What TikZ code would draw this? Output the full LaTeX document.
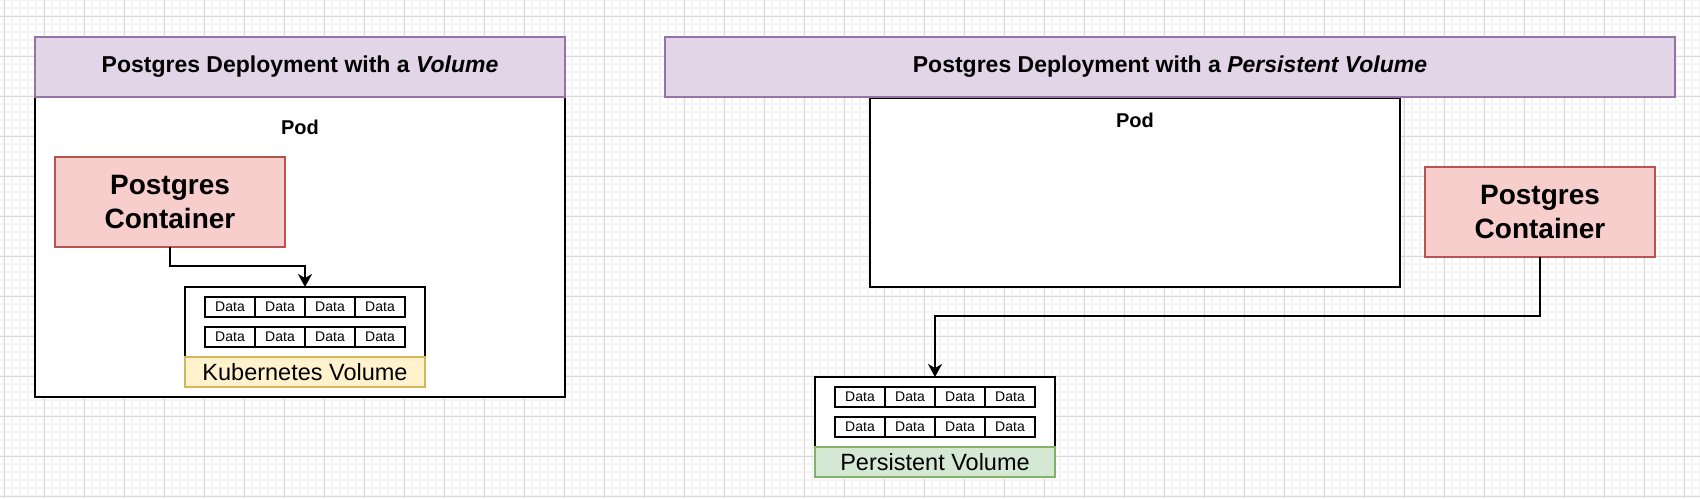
\documentclass[tikz,border=0pt]{standalone}
\usepackage{fontspec}
\setmainfont{Liberation Sans}
\usetikzlibrary{arrows.meta, positioning}
\definecolor{titlefill}{HTML}{E1D5E7}
\definecolor{titleline}{HTML}{9673A6}
\definecolor{boxfill}{HTML}{F8CECC}
\definecolor{boxline}{HTML}{B85450}
\definecolor{kubefill}{HTML}{FFF2CC}
\definecolor{kubeline}{HTML}{D6B656}
\definecolor{persfill}{HTML}{D5E8D4}
\definecolor{persline}{HTML}{82B366}

\begin{document}
\begin{tikzpicture}[x=1pt, y=-1pt, every node/.style={outer sep=0pt, inner sep=0pt},
        banner/.style={draw=titleline, fill=titlefill, line width=1.5pt, minimum height=60pt,
            anchor=north west, font=\fontsize{23}{27}\selectfont\bfseries},
        pod/.style={draw, fill=white, line width=2.5pt, minimum width=530pt, anchor=north west},
        podlabel/.style={font=\fontsize{20}{24}\selectfont\bfseries},
        container/.style={draw=boxline, fill=boxfill, line width=1.5pt, minimum width=230pt,
            minimum height=90pt, anchor=north west, align=center, font=\fontsize{28}{34}\selectfont\bfseries},
        volume/.style={draw, fill=white, line width=2pt, minimum width=240pt, minimum height=70pt, anchor=north west},
        datacell/.style={draw, line width=2pt, minimum width=50pt, minimum height=20pt,
            anchor=north west, font=\fontsize{14}{16}\selectfont},
        vollabel/.style={line width=2pt, minimum width=240pt, minimum height=30pt, font=\fontsize{23.5}{28}\selectfont},
        link/.style={line width=2.5pt, -{Stealth[length=13pt, width=14pt, inset=4pt]}}]
        \useasboundingbox (0, 0) rectangle (1700, 498);
        % Grid
        \foreach \gx in {4, 12, ..., 1700} \draw [gray!8, line width=1.5pt] (\gx, 0) -- (\gx, 498);
        \foreach \gy in {0, 8, ..., 498} \draw [gray!8, line width=1.5pt] (0, \gy) -- (1700, \gy);
        \foreach \gx in {4, 44, ..., 1700} \draw [gray!30, line width=1pt] (\gx, 0) -- (\gx, 498);
        \foreach \gy in {16, 56, ..., 498} \draw [gray!30, line width=1pt] (0, \gy) -- (1700, \gy);
        % Volume deployment
        \node [pod, minimum height=300pt] (podL) at (35, 97) {};
        \node [banner, minimum width=530pt] (titleL) at (35, 37) {Postgres Deployment with a \textit{Volume}};
        \node [podlabel] (podLabelL) at (300, 127) {Pod};
        \node [container] (pgL) at (55, 157) {Postgres\\Container};
        \node [volume] (kvol) at (185, 287) {};
        \node [vollabel, draw=kubeline, fill=kubefill, below=0pt of kvol] (kvolLabel) {Kubernetes Volume};
        % Persistent volume deployment
        \node [pod, minimum height=189pt] (podR) at (870, 98) {};
        \node [banner, minimum width=1010pt] (titleR) at (665, 37) {Postgres Deployment with a \textit{Persistent Volume}};
        \node [podlabel] (podLabelR) at (1135, 120) {Pod};
        \node [container] (pgR) at (1425, 167) {Postgres\\Container};
        \node [volume] (pvol) at (815, 377) {};
        \node [vollabel, draw=persline, fill=persfill, below=0pt of pvol] (pvolLabel) {Persistent Volume};
        % Data cells
        \foreach \v in {kvol, pvol}
            \foreach \r in {0, 1}
                \foreach \c in {0, ..., 3}
                    \node [datacell] (\v-\r-\c) at ([xshift={20pt+50pt*\c}, yshift={-10pt-30pt*\r}]\v.north west) {Data};
        % Arrows
        \draw [link] (pgL.south) -- ++(0, 19) -| (kvol.north);
        \draw [link] (pgR.south) -- ++(0, 59) -| (pvol.north);
    \end{tikzpicture}
\end{document}
